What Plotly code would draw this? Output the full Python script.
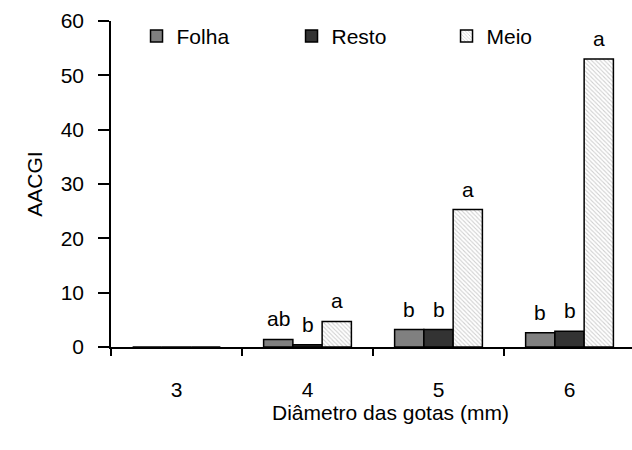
import plotly.graph_objects as go

categories = ["3", "4", "5", "6"]
folha = [0, 1.4, 3.2, 2.6]
resto = [0, 0.4, 3.2, 2.9]
meio = [0, 4.7, 25.3, 53.0]
folha_lbl = ["", "ab", "b", "b"]
resto_lbl = ["", "b", "b", "b"]
meio_lbl = ["", "a", "a", "a"]

FONT = "Liberation Sans, Arial, sans-serif"
fs = 21
BARGAP = 0.33

fig = go.Figure()
fig.add_trace(go.Bar(name="Folha", x=categories, y=folha,
                     marker=dict(color="#808080", line=dict(color="black", width=1.5))))
fig.add_trace(go.Bar(name="Resto", x=categories, y=resto,
                     marker=dict(color="#333333", line=dict(color="black", width=1.5))))
fig.add_trace(go.Bar(name="Meio", x=categories, y=meio,
                     marker=dict(color="white", line=dict(color="black", width=1.5),
                                 pattern=dict(shape="\\", fgcolor="#a0a0a0", bgcolor="white",
                                              size=3, solidity=0.35))))

# letter labels above bars
annotations = []
series = [(folha, folha_lbl), (resto, resto_lbl), (meio, meio_lbl)]
bw = (1 - BARGAP) / len(series)
for si, (vals, lbls) in enumerate(series):
    off = (si - (len(series) - 1) / 2) * bw
    for ci, (v, t) in enumerate(zip(vals, lbls)):
        if t:
            annotations.append(dict(x=ci + off, y=v, xref="x", yref="y", text=t,
                                    showarrow=False, xanchor="center", yanchor="bottom",
                                    yshift=7, font=dict(family=FONT, size=fs, color="black")))

annotations.append(dict(text="Diâmetro das gotas (mm)", xref="paper", yref="paper",
                        x=0.537, y=-0.2, xanchor="center", yanchor="middle", showarrow=False,
                        font=dict(family=FONT, size=fs)))

fig.update_layout(
    width=632, height=450,
    margin=dict(l=111, r=0, t=21, b=103),
    paper_bgcolor="white", plot_bgcolor="white",
    barmode="group", bargap=BARGAP, bargroupgap=0,
    font=dict(family=FONT, size=fs, color="black"),
    showlegend=True,
    legend=dict(orientation="h", x=0.049, y=1.016, xanchor="left", yanchor="top",
                font=dict(family=FONT, size=fs), entrywidth=110, entrywidthmode="pixels",
                bgcolor="rgba(0,0,0,0)", traceorder="normal"),
    xaxis=dict(type="category", range=[-0.5, 3.477], showline=True, linecolor="black", linewidth=1.5,
               ticks="outside", ticklen=7, tickcolor="black", tickwidth=1.5,
               tickson="boundaries", showgrid=False, zeroline=False, ticklabelstandoff=23,
               tickfont=dict(family=FONT, size=fs)),
    yaxis=dict(range=[0, 60], dtick=10, showline=True, linecolor="black", linewidth=1.5,
               ticks="outside", ticklen=11, tickcolor="black", tickwidth=1.5,
               showgrid=False, zeroline=False, ticklabelstandoff=10,
               title=dict(text="AACGI", font=dict(family=FONT, size=fs), standoff=12),
               tickfont=dict(family=FONT, size=fs)),
    annotations=annotations,
)

fig.write_html("out.html")
